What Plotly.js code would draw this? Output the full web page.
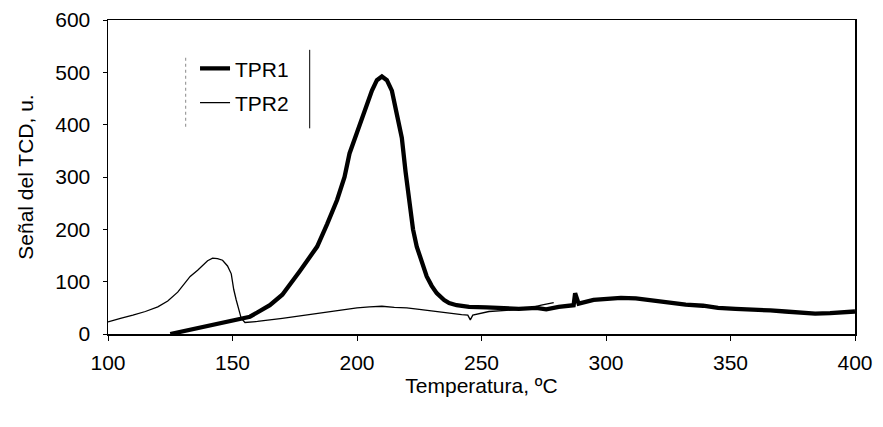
<!DOCTYPE html>
<html>
<head>
<meta charset="utf-8">
<script src="https://cdn.plot.ly/plotly-3.0.1.min.js"></script>
<style>html,body{margin:0;padding:0;background:#fff;}#chart{width:883px;height:427px;}</style>
</head>
<body>
<div id="chart"></div>
<script>
// TPR1 (thick line)
const tpr1T = [125,130,135,140,146,150,157,165,170,177,184,188,192,195,197,200,204,206,208,210,212,214,216,218,219.5,221,222.5,224,226,228,230,232,235,237,240,245,252,258,265,272,276,281,285,287,287.6,289,295,300,306,312,318,326,332,339,345,352,359,366,372,379,384,390,395,400];
const tpr1V = [0,5,10,14,20,26,33,55,75,120,167,210,256,300,345,385,441,465,485,492,485,465,420,375,310,250,200,167,135,110,92,78,65,59,55,52,51,49,48,50,47,52,54,55,78,58,65,66,69,68,64,59,56,54,50,48,47,45,43,41,39,40,42,43];
// TPR2 (thin line)
const tpr2T = [100,102,105,110,115,120,124,128,133,136,138,140,142,144,146,148,149.5,150.5,151.5,152.5,153.5,155,160,170,180,190,200,205,210,215,220,225,230,235,239,242,244.5,245.5,246.5,250,253,260,268,274,279];
const tpr2V = [23,26,30,36,43,52,63,80,110,122,132,140,145,144,141,130,115,85,65,45,30,22,24,30,37,44,50,52,53,51,50,47,44,40,39,37,36,27,36,40,43,45,48,55,60];

const font = {family: '"Liberation Sans", Arial, sans-serif', size: 21, color: '#000'};

const traces = [
  {x: tpr1T, y: tpr1V, mode: 'lines', name: 'TPR1', legendgroup: 'a',
   line: {color: '#000', width: 4.3}},
  {x: tpr2T, y: tpr2V, mode: 'lines', name: 'TPR2', legendgroup: 'b',
   line: {color: '#000', width: 1.3}}
];

const layout = {
  width: 883, height: 427,
  margin: {l: 108, r: 28, t: 20, b: 93},
  paper_bgcolor: '#fff', plot_bgcolor: '#fff',
  font: font,
  showlegend: true,
  legend: {x: 0.1165, y: 0.91, xanchor: 'left', yanchor: 'top',
           bgcolor: 'rgba(0,0,0,0)', borderwidth: 0, font: font,
           tracegroupgap: 4},
  xaxis: {range: [100, 400], dtick: 50, tick0: 100,
          showline: true, linecolor: '#000', linewidth: 1.5, mirror: true,
          ticks: 'outside', ticklen: 5, tickcolor: '#000',
          showgrid: false, zeroline: false, tickfont: font, ticklabelstandoff: 4,
          title: {text: 'Temperatura, ºC', font: font, standoff: 4}},
  yaxis: {range: [0, 600], dtick: 100,
          showline: true, linecolor: '#000', linewidth: 1.5, mirror: true,
          ticks: 'outside', ticklen: 4, tickcolor: '#000',
          showgrid: false, zeroline: false, tickfont: font, ticklabelstandoff: 8,
          title: {text: 'Señal del TCD, u.', font: font, standoff: 16}},
  shapes: [
    {type: 'line', xref: 'paper', yref: 'paper', x0: 0.27, x1: 0.27, y0: 0.655, y1: 0.905,
     line: {color: '#000', width: 1}},
    {type: 'line', xref: 'paper', yref: 'paper', x0: 0.104, x1: 0.104, y0: 0.66, y1: 0.88,
     line: {color: '#888', width: 1, dash: 'dot'}}
  ]
};

Plotly.newPlot('chart', traces, layout, {displayModeBar: false, staticPlot: true});
</script>
</body>
</html>
